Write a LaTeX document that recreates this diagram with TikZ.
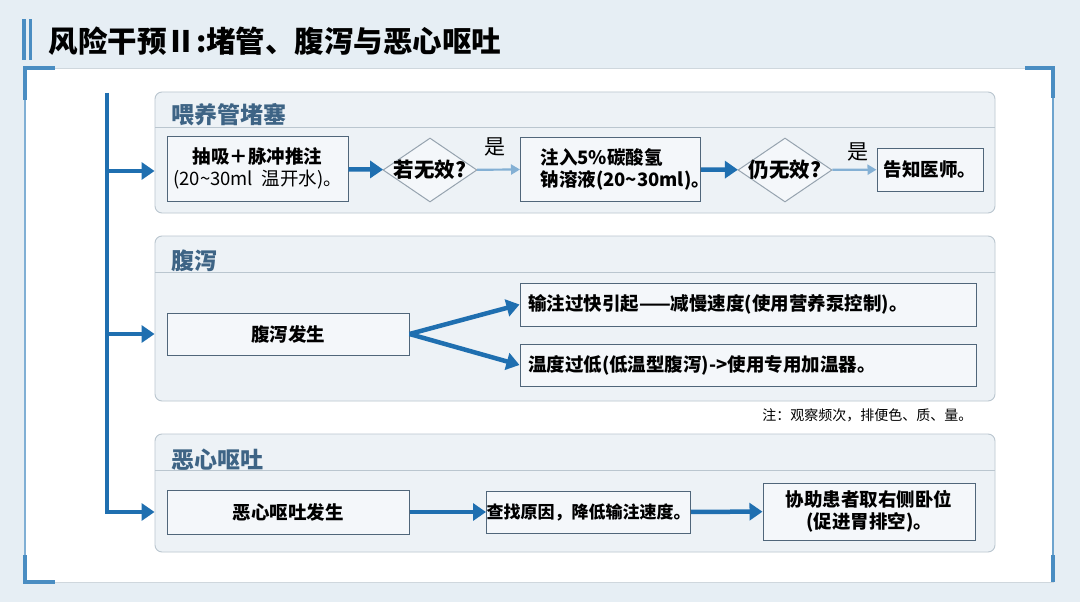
\documentclass[tikz,border=0pt]{standalone}
\usepackage{fontspec}
\setmainfont{Noto Sans CJK SC}
\usetikzlibrary{shapes.geometric,arrows.meta}
\definecolor{bgcol}{HTML}{E6EEF4}
\definecolor{spine}{HTML}{1F6FB0}
\definecolor{framecol}{HTML}{4A8DC2}
\definecolor{grpfill}{HTML}{EDF2F6}
\definecolor{grpline}{HTML}{BAC6CF}
\definecolor{gtitle}{HTML}{3E6485}
\definecolor{boxfill}{HTML}{F4F7FA}
\definecolor{boxline}{HTML}{50667A}

\begin{document}
\begin{tikzpicture}[x=1pt,y=-1pt,
    grp/.style={draw=grpline,fill=grpfill,line width=0.9pt,rounded corners=7pt,inner sep=0pt},
    gtitle/.style={anchor=west,text=gtitle,font=\bfseries\fontsize{23}{26}\selectfont},
    box/.style={draw=boxline,fill=boxfill,line width=1pt,align=center,inner sep=2pt,
      font=\bfseries\fontsize{18.5}{22}\selectfont},
    dec/.style={diamond,draw=boxline!60,fill=boxfill,line width=1pt,inner sep=0pt,
      minimum width=94pt,minimum height=64pt},
    dectext/.style={font=\bfseries\fontsize{20.5}{23}\selectfont},
    flow/.style={draw=spine,line width=4.5pt,-{Triangle[length=13pt,width=17pt]}},
    weak/.style={draw=spine!55,line width=2.2pt,-{Triangle[length=9pt,width=10pt]}},
  ]
  \useasboundingbox (0,0) rectangle (1080,602);
  \fill[bgcol] (0,0) rectangle (1080,602);
  \fill[white] (25,68) rectangle (1053,582);
  \draw[grpline!70,line width=0.8pt] (25,68) rectangle (1053,582);
  \draw[framecol!70,line width=2pt] (25,68) -- (25,582);
  \draw[framecol!80,line width=2.5pt] (1053,68) -- (1053,582);
  \draw[framecol,line width=4pt] (55,68) -- (25,68) -- (25,100);
  \draw[framecol,line width=4pt] (25,555) -- (25,582) -- (55,582);
  \draw[framecol,line width=4pt] (1025,68) -- (1053,68) -- (1053,98);
  \draw[framecol,line width=4pt] (1053,555) -- (1053,582);
  \fill[framecol] (22,19) rectangle (26,60);
  \fill[framecol] (29,19) rectangle (32,60);
  \node[anchor=west,font=\bfseries\fontsize{29.5}{33}\selectfont] (title) at (45,41)
    {风险干预Ⅱ:堵管、腹泻与恶心呕吐};

  \node[grp,minimum width=840pt,minimum height=121pt] (g1) at (575,152.5) {};
  \node[grp,minimum width=840pt,minimum height=165pt] (g2) at (575,318.5) {};
  \node[grp,minimum width=840pt,minimum height=118pt] (g3) at (575,493) {};
  \draw[grpline,line width=0.9pt] (155,127) -- (995,127);
  \draw[grpline,line width=0.9pt] (155,272) -- (995,272);
  \draw[grpline,line width=0.9pt] (155,470) -- (995,470);
  \node[gtitle] (t1) at (168,115) {喂养管堵塞};
  \node[gtitle] (t2) at (168,261) {腹泻};
  \node[gtitle] (t3) at (168,460) {恶心呕吐};

  \node[box,minimum width=181pt,minimum height=65pt] (a1) at (257.5,168.5)
    {抽吸＋脉冲推注\\{\mdseries (20\textasciitilde30ml\ \ 温开水)。}};
  \node[dec,label={[dectext]center:若无效?}] (d1) at (430,170) {};
  \node[box,minimum height=64pt,text width=140pt,inner xsep=20pt,align=left] (a2) at (610.5,169)
    {注入5\%碳酸氢\\钠溶液(20\textasciitilde30ml)。};
  \node[dec,label={[dectext]center:仍无效?}] (d2) at (785,170) {};
  \node[box,minimum width=106pt,minimum height=43pt] (a3) at (930,169.5) {告知医师。};
  \node[font=\fontsize{21}{23}\selectfont] (y1) at (495,147) {是};
  \node[font=\fontsize{21}{23}\selectfont] (y2) at (858,152) {是};
  \draw[flow] (a1) -- (d1);
  \draw[weak] (d1) -- (a2);
  \draw[flow] (a2) -- (d2);
  \draw[weak] (d2) -- (a3);

  \node[box,minimum width=242pt,minimum height=42pt] (b1) at (288,334) {腹泻发生};
  \node[box,minimum height=43pt,text width=440pt,inner xsep=8pt,align=left] (b2) at (748,304.5)
    {输注过快引起——减慢速度(使用营养泵控制)。};
  \node[box,minimum height=42pt,text width=440pt,inner xsep=8pt,align=left] (b3) at (748,365)
    {温度过低(低温型腹泻)->使用专用加温器。};
  \draw[flow] (b1.east) -- (b2.west);
  \draw[flow] (b1.east) -- (b3.west);
  \node[anchor=east,font=\fontsize{14}{16}\selectfont] (note) at (976,415) {注：观察频次，排便色、质、量。};

  \node[box,minimum width=242pt,minimum height=44pt] (c1) at (288,512) {恶心呕吐发生};
  \node[box,minimum width=203pt,minimum height=42pt,inner sep=0pt,
    font=\bfseries\fontsize{17}{20}\selectfont] (c2) at (588.5,512) {查找原因，降低输注速度。};
  \node[box,minimum width=212pt,minimum height=57pt] (c3) at (869,511.5) {协助患者取右侧卧位\\(促进胃排空)。};
  \draw[flow] (c1) -- (c2);
  \draw[flow] (c2) -- (c3);

  \coordinate (top) at (107,93);
  \coordinate (j1) at (107,171);
  \coordinate (j2) at (107,334);
  \coordinate (j3) at (107,512);
  \draw[flow,line cap=butt] (top) -- (j3) -- (j3 -| g3.west);
  \draw[flow] (j1) -- (j1 -| g1.west);
  \draw[flow] (j2) -- (j2 -| g2.west);
\end{tikzpicture}
\end{document}
